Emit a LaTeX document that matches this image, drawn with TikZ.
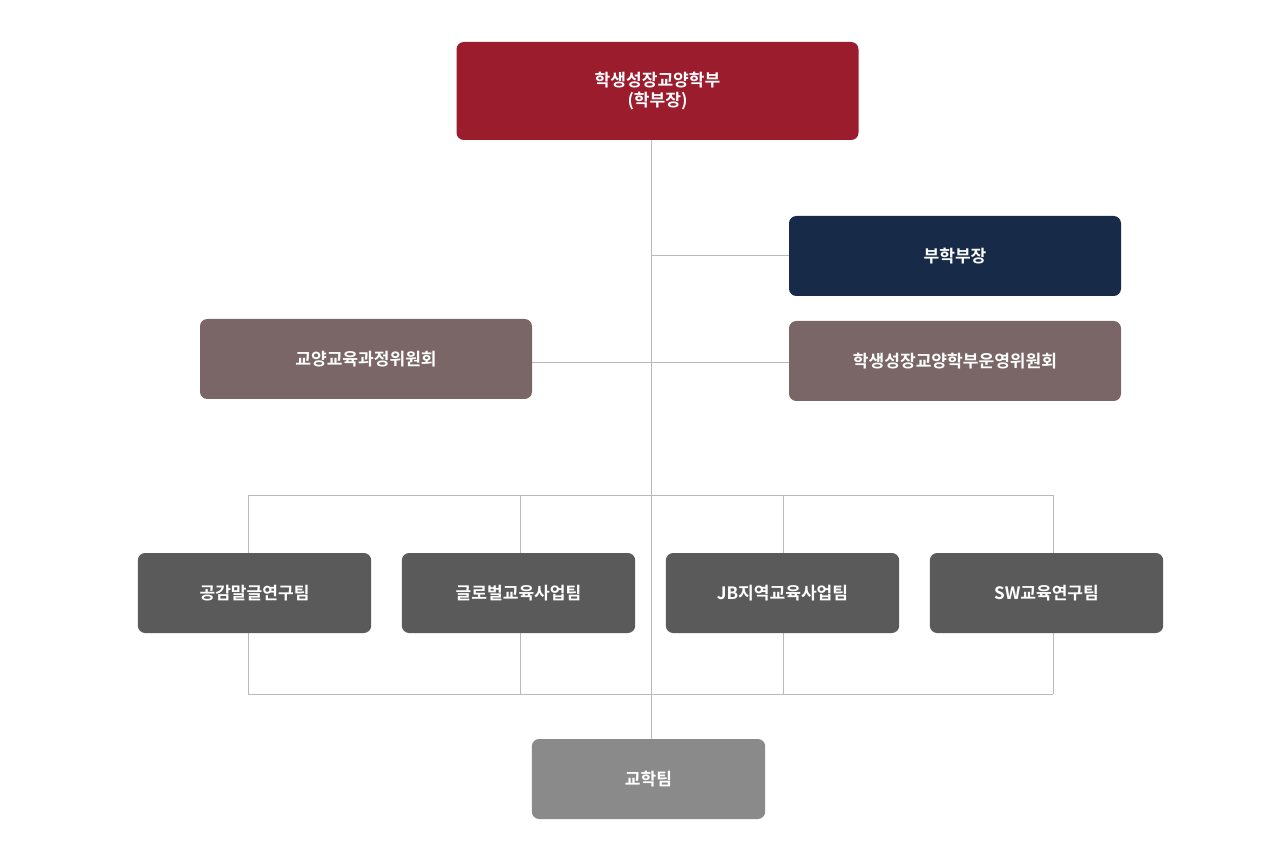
\documentclass[tikz,border=0pt]{standalone}
\usepackage{fontspec}
\setmainfont{Noto Sans CJK KR}[BoldFont={* Bold}]
\begin{document}
\begin{tikzpicture}[x=0.75pt,y=-0.75pt,
  box/.style={rectangle,rounded corners=5.5pt,inner sep=0pt,text=white,font=\fontsize{12.8pt}{15pt}\selectfont\bfseries,align=center},
  ln/.style={draw=black!27,line width=0.75pt}]
\useasboundingbox (0,0) rectangle (1280,862);
\definecolor{cRed}{HTML}{9B1C2C}\definecolor{cNavy}{HTML}{172B48}
\definecolor{cMauve}{HTML}{7A6666}\definecolor{cDark}{HTML}{5A5A5A}\definecolor{cGray}{HTML}{8A8A8A}
% lines
\coordinate (t) at (651,140);
\coordinate (b) at (651,739);
\coordinate (j1) at (651,256);
\coordinate (j2) at (532,363);
\coordinate (j3) at (789,363);
\coordinate (u1) at (248,495);\coordinate (u2) at (1053,495);
\coordinate (l1) at (248,694);\coordinate (l2) at (1053,694);
\draw[ln] (t)--(b);
\draw[ln] (j1)--(789,256);
\draw[ln] (j2)--(j3);
\draw[ln] (u1)--(u2);
\draw[ln] (l1)--(l2);
\foreach \x in {248,520,783,1053}{\draw[ln] (\x,495)--(\x,553); \draw[ln] (\x,633)--(\x,694);}
% boxes
\node[box,fill=cRed,minimum width=301.5pt,minimum height=73.5pt] (top) at (657.5,91) {학생성장교양학부\\(학부장)};
\node[box,fill=cNavy,minimum width=249pt,minimum height=60pt] (vice) at (955,256) {부학부장};
\node[box,fill=cMauve,minimum width=249pt,minimum height=60pt] (cur) at (366,359) {교양교육과정위원회};
\node[box,fill=cMauve,minimum width=249pt,minimum height=60pt] (op) at (955,361) {학생성장교양학부운영위원회};
\node[box,fill=cDark,minimum width=175pt,minimum height=60pt] (a) at (254.5,593) {공감말글연구팀};
\node[box,fill=cDark,minimum width=175pt,minimum height=60pt] (c) at (518.5,593) {글로벌교육사업팀};
\node[box,fill=cDark,minimum width=175pt,minimum height=60pt] (d) at (782.5,593) {JB지역교육사업팀};
\node[box,fill=cDark,minimum width=175pt,minimum height=60pt] (e) at (1046.5,593) {SW교육연구팀};
\node[box,fill=cGray,minimum width=175pt,minimum height=60pt] (f) at (648.5,779) {교학팀};
\end{tikzpicture}
\end{document}
